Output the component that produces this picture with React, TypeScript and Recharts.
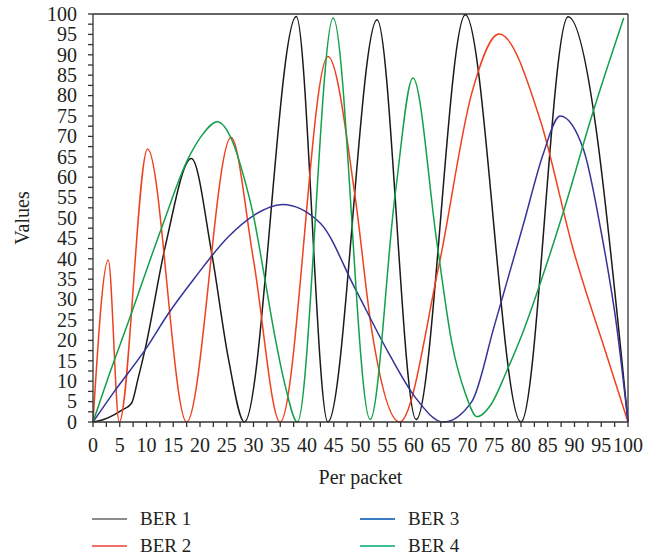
import { LineChart, Line, XAxis, YAxis, ReferenceLine, Legend } from 'recharts'

type Pt = { x: number; y: number }

const FONT = '"Liberation Serif", "DejaVu Serif", serif'
const INK = '#231f20'
const AXIS = '#333'

// points; the curve type does the smoothing
const ber1: Pt[] = [
  { x: 0, y: 0 }, { x: 2, y: 0.6 }, { x: 4, y: 1.8 }, { x: 5.4, y: 2.9 }, { x: 7.2, y: 4.6 },
  { x: 8.4, y: 10.5 }, { x: 9.7, y: 17.6 }, { x: 13.5, y: 43 }, { x: 18.4, y: 64.6 },
  { x: 22.2, y: 41.3 }, { x: 25.3, y: 15.6 }, { x: 28.3, y: 0 }, { x: 38, y: 99.4 },
  { x: 43.9, y: 0 }, { x: 53.1, y: 98.6 }, { x: 60.4, y: 0.6 }, { x: 69.6, y: 99.8 },
  { x: 80, y: 0 }, { x: 88.8, y: 99.3 }, { x: 100, y: 0 },
]

const ber2: Pt[] = [
  { x: 0, y: 0 }, { x: 2.85, y: 39.7 }, { x: 4.9, y: 0 }, { x: 10.2, y: 66.9 }, { x: 17.5, y: 0 },
  { x: 25.8, y: 69.7 }, { x: 30, y: 39.7 }, { x: 35, y: 0 }, { x: 43.9, y: 89.6 },
  { x: 49, y: 55.2 }, { x: 52.1, y: 22.5 }, { x: 57.3, y: 0 }, { x: 64.6, y: 38 },
  { x: 70.8, y: 80.6 }, { x: 75.9, y: 95.1 }, { x: 83.6, y: 74 }, { x: 89.8, y: 42.1 },
  { x: 96.1, y: 16 }, { x: 100, y: 0 },
]

const ber3: Pt[] = [
  { x: 0, y: 0 }, { x: 4, y: 7.5 }, { x: 9.7, y: 17.6 }, { x: 14.1, y: 26.6 }, { x: 19, y: 35.3 },
  { x: 25.3, y: 45.4 }, { x: 30, y: 50.6 }, { x: 35.4, y: 53.3 }, { x: 42.5, y: 48.7 },
  { x: 49, y: 32.7 }, { x: 55.3, y: 16.8 }, { x: 60.2, y: 6.1 }, { x: 65.5, y: 0 },
  { x: 70.8, y: 5 }, { x: 75, y: 23.5 }, { x: 80.5, y: 48.7 }, { x: 84.2, y: 65.9 },
  { x: 87.3, y: 75 }, { x: 91.7, y: 66.7 }, { x: 94.8, y: 47.9 }, { x: 97.9, y: 23.3 },
  { x: 100, y: 0 },
]

const ber4: Pt[] = [
  { x: 0, y: 0 }, { x: 3, y: 11.5 }, { x: 6.6, y: 24.5 }, { x: 12.8, y: 47.5 }, { x: 17.8, y: 64.6 },
  { x: 20.5, y: 70.5 }, { x: 23.2, y: 73.6 }, { x: 26, y: 69 }, { x: 28, y: 61 }, { x: 30, y: 50.5 },
  { x: 32, y: 36 }, { x: 34, y: 21 }, { x: 36, y: 8.5 }, { x: 38.2, y: 0 }, { x: 44.9, y: 99 },
  { x: 51.8, y: 0.6 }, { x: 56.5, y: 56 }, { x: 59.8, y: 84.3 }, { x: 64.3, y: 43.8 },
  { x: 67.1, y: 19.2 }, { x: 69.6, y: 7 }, { x: 71.8, y: 1.3 }, { x: 74.3, y: 4.1 },
  { x: 77.4, y: 12.7 }, { x: 80.5, y: 22.5 }, { x: 83.6, y: 34 }, { x: 88.6, y: 54.4 },
  { x: 93, y: 74 }, { x: 99.2, y: 99 },
]

const TICKS = [
  0, 2.5, 5, 7.5, 10, 12.5, 15, 17.5, 20, 22.5, 25, 27.5, 30, 32.5, 35, 37.5, 40, 42.5, 45, 47.5,
  50, 52.5, 55, 57.5, 60, 62.5, 65, 67.5, 70, 72.5, 75, 77.5, 80, 82.5, 85, 87.5, 90, 92.5, 95, 97.5, 100,
]

const SERIES = [
  { key: 'ber1', name: 'BER 1', data: ber1, color: '#1a1a1a', legendColor: '#8c8c8c' },
  { key: 'ber2', name: 'BER 2', data: ber2, color: '#f0401e', legendColor: '#f07068' },
  { key: 'ber3', name: 'BER 3', data: ber3, color: '#35339a', legendColor: '#3b7dc4' },
  { key: 'ber4', name: 'BER 4', data: ber4, color: '#12a04a', legendColor: '#3dbf94' },
]

const fmtTick = (v: number) => (v % 5 === 0 ? String(v) : '')

const textCss = { fontFamily: FONT, fontSize: 20, fill: INK }

function XTick(p: any) {
  return (
    <text x={p.x} y={p.y} dy="0.71em" textAnchor="middle" style={textCss}>
      {fmtTick(p.payload.value)}
    </text>
  )
}

function YTick(p: any) {
  return (
    <text x={p.x} y={p.y} dy="0.34em" textAnchor="end" style={textCss}>
      {fmtTick(p.payload.value)}
    </text>
  )
}

function BerLegend() {
  return (
    <div style={{ position: 'relative', height: 54, fontFamily: FONT, fontSize: 19, color: INK }}>
      {SERIES.map((s, i) => (
        <div
          key={s.key}
          style={{
            position: 'absolute',
            left: i < 2 ? 92 : 360,
            top: (i % 2) * 27,
            height: 27,
            display: 'flex',
            alignItems: 'center',
            whiteSpace: 'nowrap',
          }}
        >
          <div style={{ width: 35, height: 2, background: s.legendColor, marginRight: 13 }} />
          <span>{s.name}</span>
        </div>
      ))}
    </div>
  )
}

function ValuesLabel(props: any) {
  const vb = props.viewBox || { y: 14, height: 408 }
  const cy = vb.y + vb.height / 2
  return (
    <text x={22} y={cy} transform={`rotate(-90 22 ${cy})`} textAnchor="middle" dominantBaseline="central"
      style={textCss}>
      Values
    </text>
  )
}

function PacketLabel(props: any) {
  const vb = props.viewBox || { x: 93, y: 422, width: 535 }
  const cx = vb.x + vb.width / 2
  return (
    <text x={cx} y={484} textAnchor="middle" style={textCss}>
      Per packet
    </text>
  )
}

export default function App() {
  return (
    <div style={{ position: 'absolute', left: 0, top: 0, width: 656, height: 559, background: '#fff', fontFamily: FONT }}>
      <LineChart width={656} height={559} margin={{ top: 14, right: 28, bottom: 0, left: 0 }}>
        <XAxis
          type="number"
          dataKey="x"
          domain={[0, 100]}
          ticks={TICKS}
          interval={0}
          tick={XTick}
          tickSize={5}
          tickMargin={11}
          height={83}
          stroke={AXIS}
          strokeWidth={1.3}
          label={{ content: PacketLabel }}
        />
        <YAxis
          type="number"
          domain={[0, 100]}
          ticks={TICKS}
          interval={0}
          tick={YTick}
          tickSize={5}
          tickMargin={11}
          width={93}
          stroke={AXIS}
          strokeWidth={1.3}
          label={{ content: ValuesLabel }}
        />
        <ReferenceLine y={100} stroke={AXIS} strokeWidth={1.3} />
        <ReferenceLine x={100} stroke={AXIS} strokeWidth={1.3} />
        {SERIES.map((s) => (
          <Line
            key={s.key}
            data={s.data}
            dataKey="y"
            name={s.name}
            type="monotone"
            stroke={s.color}
            strokeWidth={1.5}
            dot={false}
            isAnimationActive={false}
          />
        ))}
        <Legend verticalAlign="bottom" content={BerLegend} />
      </LineChart>
    </div>
  )
}
